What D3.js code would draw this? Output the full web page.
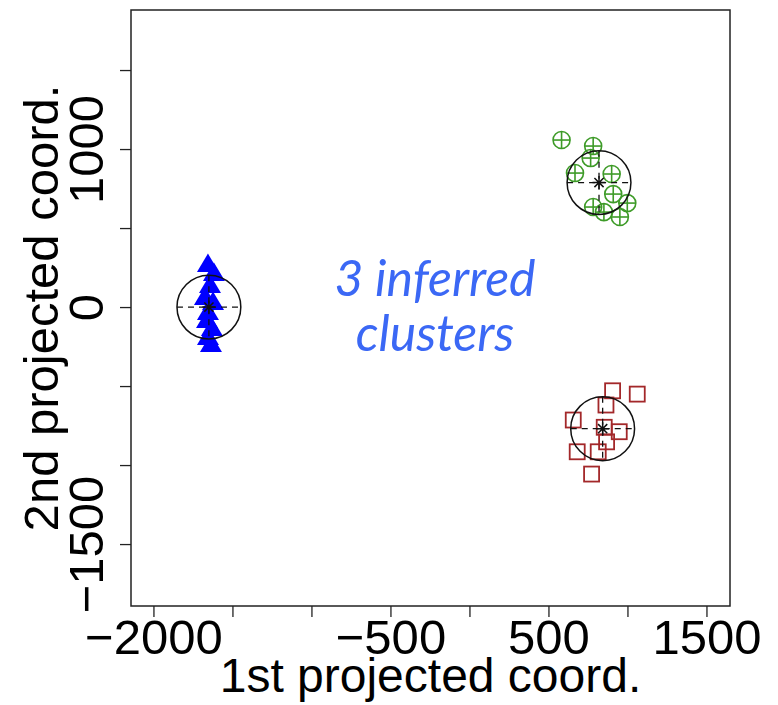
<!DOCTYPE html>
<html>
<head>
<meta charset="utf-8">
<script src="https://cdn.jsdelivr.net/npm/d3@7"></script>
<style>
html, body { margin: 0; padding: 0; background: #fff; }
svg { display: block; }
</style>
</head>
<body>
<svg id="chart" width="778" height="705"></svg>
<script>
// ---- data ----
const blueX = [-1655, -1617, -1642, -1674, -1623, -1655, -1661, -1630, -1655, -1636];
const blueY = [272, 215, 139, 63, 32, -32, -82, -133, -190, -234];
const greenX = [583, 783, 767, 668, 900, 910, 999, 783, 851, 952];
const greenY = [1057, 1019, 943, 848, 842, 715, 658, 633, 601, 570];
const redX = [906, 1062, 864, 657, 853, 948, 868, 682, 815, 773];
const redY = [-530, -551, -620, -715, -761, -789, -853, -916, -916, -1057];
const centerX = [-1649, 820, 843];
const centerY = [0, 788, -770];
const clusterRadius = [202, 202, 202];
const xTicks = [-2000, -1500, -1000, -500, 0, 500, 1000, 1500];
const xTickLabels = [-2000, -500, 500, 1500];
const yTicks = [-1500, -1000, -500, 0, 500, 1000, 1500];
const yTickLabels = [-1500, 0, 1000];
const xTitle = "1st projected coord.";
const yTitle = "2nd projected coord.";
const noteLines = ["3 inferred", "clusters"];

// ---- layout ----
const svg = d3.select("#chart");
const L = 131, R = 730, T = 10, B = 606;
const x = d3.scaleLinear().domain([-2142, 1649]).range([L, R]);
const y = d3.scaleLinear().domain([-1892, 1880]).range([B, T]);
const fmt = d3.format("d");
const font = "'Liberation Sans', Arial, Helvetica, sans-serif";

// axes
const xAxis = d3.axisBottom(x).tickValues(xTicks).tickSize(11).tickPadding(4)
  .tickFormat(d => xTickLabels.includes(d) ? fmt(d) : "");
const gx = svg.append("g").attr("transform", `translate(0,${B})`).call(xAxis);
gx.select(".domain").remove();
gx.selectAll(".tick line").attr("stroke", "#222").attr("stroke-width", 1.3);
gx.selectAll(".tick text").attr("font-family", font).attr("font-size", 49)
  .attr("fill", "#000").attr("dy", null).attr("y", 48);

const yAxis = d3.axisLeft(y).tickValues(yTicks).tickSize(11)
  .tickFormat(d => yTickLabels.includes(d) ? fmt(d) : "");
const gy = svg.append("g").attr("transform", `translate(${L},0)`).call(yAxis);
gy.select(".domain").remove();
gy.selectAll(".tick line").attr("stroke", "#222").attr("stroke-width", 1.3);
gy.selectAll(".tick text").attr("font-family", font).attr("font-size", 49)
  .attr("fill", "#000").attr("x", null).attr("dy", null)
  .attr("text-anchor", "middle")
  .attr("transform", "translate(-28,0) rotate(-90)");

// frame
svg.append("rect").attr("x", L).attr("y", T).attr("width", R - L).attr("height", B - T)
  .attr("fill", "none").attr("stroke", "#222").attr("stroke-width", 1.5);

// titles
svg.append("text").attr("x", (L + R) / 2).attr("y", 692).attr("text-anchor", "middle")
  .attr("font-family", font).attr("font-size", 48).attr("fill", "#000").text(xTitle);
svg.append("text").attr("transform", `translate(58,${(T + B) / 2}) rotate(-90)`)
  .attr("text-anchor", "middle")
  .attr("font-family", font).attr("font-size", 49).attr("fill", "#000").text(yTitle);

// points
const blue = blueX.map((v, i) => [v, blueY[i]]);
const green = greenX.map((v, i) => [v, greenY[i]]);
const red = redX.map((v, i) => [v, redY[i]]);

svg.append("g").selectAll("path").data(blue).join("path")
  .attr("d", d => {
    const cx = x(d[0]), cy = y(d[1]);
    return `M${cx},${cy - 10.5}L${cx + 11},${cy + 8}L${cx - 11},${cy + 8}Z`;
  })
  .attr("fill", "#0000ff");

const gc = svg.append("g").attr("stroke", "#3e9b28").attr("stroke-width", 1.6).attr("fill", "none");
green.forEach(d => {
  const cx = x(d[0]), cy = y(d[1]);
  gc.append("circle").attr("cx", cx).attr("cy", cy).attr("r", 8.5);
  gc.append("line").attr("x1", cx - 8.5).attr("x2", cx + 8.5).attr("y1", cy).attr("y2", cy);
  gc.append("line").attr("x1", cx).attr("x2", cx).attr("y1", cy - 8.5).attr("y2", cy + 8.5);
});

svg.append("g").selectAll("rect").data(red).join("rect")
  .attr("x", d => x(d[0]) - 7.5).attr("y", d => y(d[1]) - 7.5)
  .attr("width", 15).attr("height", 15)
  .attr("fill", "none").attr("stroke", "#a3282a").attr("stroke-width", 1.8);

// cluster circles, dashed cross hairs, centroid stars
const gk = svg.append("g").attr("stroke", "#111").attr("fill", "none");
centerX.forEach((cxv, i) => {
  const cx = x(cxv), cy = y(centerY[i]);
  const r = x(cxv + clusterRadius[i]) - cx;
  gk.append("circle").attr("cx", cx).attr("cy", cy).attr("r", r).attr("stroke-width", 1.5);
  gk.append("line").attr("x1", cx - r).attr("x2", cx + r).attr("y1", cy).attr("y2", cy)
    .attr("stroke-width", 1.3).attr("stroke-dasharray", "6,5");
  gk.append("line").attr("x1", cx).attr("x2", cx).attr("y1", cy - r).attr("y2", cy + r)
    .attr("stroke-width", 1.3).attr("stroke-dasharray", "6,5");
  const s = 6.5, q = s * 0.7071;
  gk.append("path").attr("stroke-width", 1.5)
    .attr("d", `M${cx - s},${cy}L${cx + s},${cy}M${cx},${cy - s}L${cx},${cy + s}` +
               `M${cx - q},${cy - q}L${cx + q},${cy + q}M${cx - q},${cy + q}L${cx + q},${cy - q}`);
});

// annotation
const note = svg.append("text").attr("text-anchor", "middle")
  .attr("font-family", "Lato, 'Open Sans', sans-serif").attr("font-style", "italic")
  .attr("font-size", 50).attr("fill", "#3b68f5");
noteLines.forEach((t, i) => {
  note.append("tspan").attr("x", 435).attr("y", 296 + i * 55).text(t);
});
</script>
</body>
</html>
